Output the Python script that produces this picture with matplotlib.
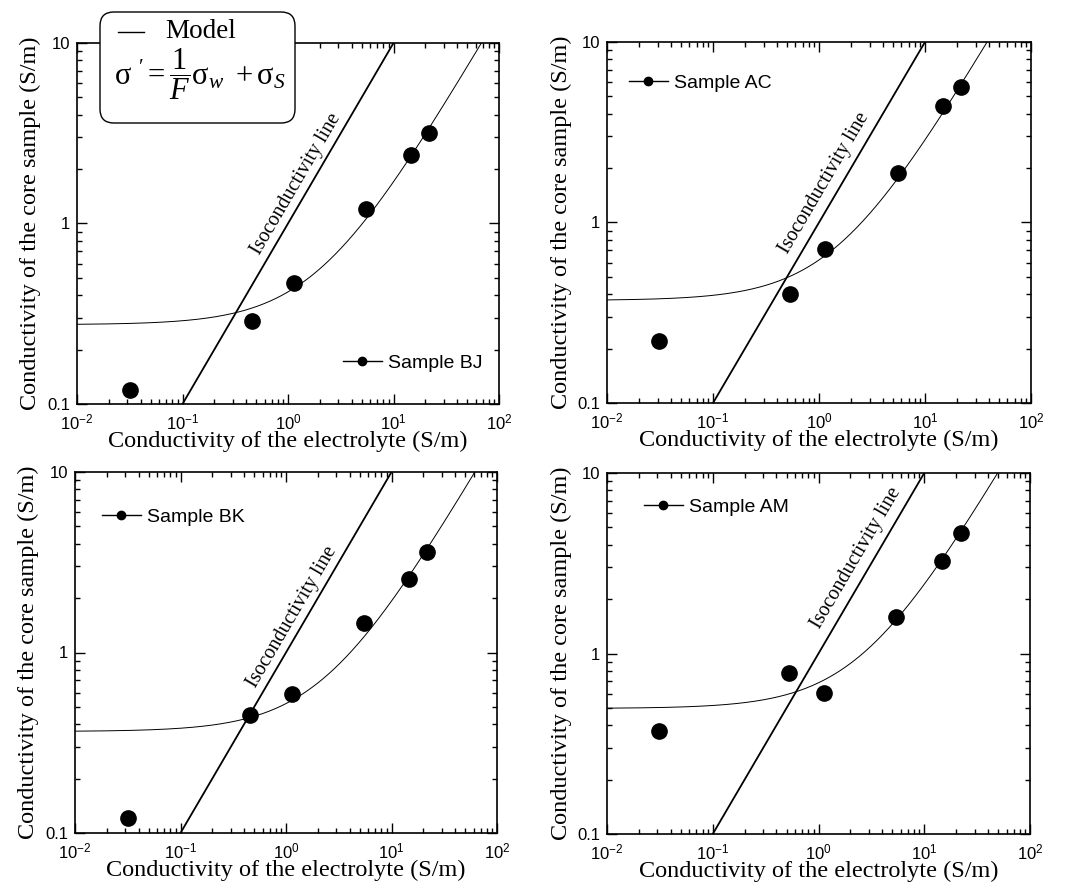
import numpy as np
import matplotlib
matplotlib.use('Agg')
import matplotlib.pyplot as plt
from matplotlib.lines import Line2D
from matplotlib.patches import FancyBboxPatch
from matplotlib.ticker import FixedLocator, FuncFormatter, LogLocator, NullFormatter

plt.rcParams['mathtext.fontset'] = 'custom'
plt.rcParams['mathtext.rm'] = 'Liberation Serif'
plt.rcParams['mathtext.it'] = 'Liberation Serif:italic'
plt.rcParams['mathtext.sf'] = 'Liberation Sans'
plt.rcParams['mathtext.bf'] = 'Liberation Serif:bold'
plt.rcParams['axes.unicode_minus'] = False

# measured points (electrolyte conductivity, core conductivity), S/m
samples = ['BJ', 'AC', 'BK', 'AM']
x_bj = [0.0315, 0.46, 1.13, 5.46, 14.6, 21.9]
y_bj = [0.12, 0.29, 0.47, 1.21, 2.41, 3.19]
x_ac = [0.031, 0.53, 1.14, 5.54, 14.7, 22.0]
y_ac = [0.22, 0.40, 0.71, 1.89, 4.42, 5.66]
x_bk = [0.0315, 0.46, 1.135, 5.54, 14.6, 21.9]
y_bk = [0.121, 0.448, 0.59, 1.45, 2.57, 3.61]
x_am = [0.031, 0.53, 1.13, 5.46, 14.6, 22.1]
y_am = [0.372, 0.775, 0.605, 1.60, 3.25, 4.65]

# model parameters: formation factor F and surface conductivity sigma_s
F_fac = [7.0, 4.0, 6.4, 5.2]
sig_s = [0.275, 0.37, 0.365, 0.496]

xs = [x_bj, x_ac, x_bk, x_am]
ys = [y_bj, y_ac, y_bk, y_am]

# where the "Isoconductivity line" label sits (data coords)
iso_lab = [(1.19, 1.66), (1.13, 1.66), (1.14, 1.58), (2.26, 3.38)]

W, H = 1067, 889
fig = plt.figure(figsize=(W/100, H/100), dpi=100)

# axes boxes in pixels: left, right, top, bottom
boxes = [(77, 499, 43, 404), (607, 1031, 42, 403),
         (75, 497, 472, 833), (607, 1030, 473, 834)]
# legend anchor in axes fraction
leg_pos = [(0.63, 0.114), (0.052, 0.886), (0.064, 0.875), (0.087, 0.906)]

serif = 'Liberation Serif'
sans = 'Liberation Sans'

xfit = np.logspace(-2, 2, 400)

for i, (l, r, t, b) in enumerate(boxes):
    ax = fig.add_axes([l/W, 1 - b/H, (r - l)/W, (b - t)/H])
    ax.set_xscale('log')
    ax.set_yscale('log')
    ax.set_xlim(0.01, 100)
    ax.set_ylim(0.1, 10)

    # isoconductivity line
    ax.plot([0.01, 100], [0.01, 100], color='k', lw=1.3)
    # model curve
    ax.plot(xfit, xfit / F_fac[i] + sig_s[i], color='k', lw=0.7)
    ax.plot(xs[i], ys[i], 'o', color='k', ms=11, ls='none')

    h = Line2D([], [], color='k', marker='o', ms=6, lw=1.0)
    ax.legend([h], ['Sample ' + samples[i]], loc='center left',
              bbox_to_anchor=leg_pos[i], frameon=False, borderpad=0,
              borderaxespad=0, handlelength=2.0, handletextpad=0.3,
              prop={'family': sans, 'size': 14})

    # rotated label along y = x
    p0 = ax.transData.transform((0.1, 0.1))
    p1 = ax.transData.transform((10, 10))
    ang = np.degrees(np.arctan2(p1[1] - p0[1], p1[0] - p0[0]))
    ax.text(iso_lab[i][0], iso_lab[i][1], 'Isoconductivity line', rotation=ang,
            ha='center', va='center', rotation_mode='anchor',
            family=serif, fontsize=14.5)

    ax.xaxis.set_major_locator(FixedLocator([0.01, 0.1, 1, 10, 100]))
    ax.xaxis.set_minor_locator(LogLocator(base=10, subs=np.arange(2, 10), numticks=20))
    ax.xaxis.set_minor_formatter(NullFormatter())
    ax.xaxis.set_major_formatter(FuncFormatter(
        lambda v, p: r'$\mathsf{10^{%d}}$' % round(np.log10(v))))
    ax.yaxis.set_major_locator(FixedLocator([0.1, 1, 10]))
    ax.yaxis.set_minor_locator(LogLocator(base=10, subs=np.arange(2, 10), numticks=20))
    ax.yaxis.set_minor_formatter(NullFormatter())
    ax.yaxis.set_major_formatter(FuncFormatter(lambda v, p: '%g' % v))

    ax.tick_params(which='both', direction='in', top=True, right=True, width=1.0)
    ax.tick_params(which='major', length=7, labelsize=12)
    ax.tick_params(axis='x', which='major', pad=6)
    ax.tick_params(axis='y', which='major', pad=5)
    ax.tick_params(which='minor', length=3.5)
    for lab in ax.get_xticklabels() + ax.get_yticklabels():
        lab.set_family(sans)
    for s in ax.spines.values():
        s.set_linewidth(1.2)

    ax.set_xlabel('Conductivity of the electrolyte (S/m)', family=serif,
                  fontsize=17.5, labelpad=-1)
    ax.set_ylabel('Conductivity of the core sample (S/m)', family=serif,
                  fontsize=17.5, labelpad=4)

# model legend box, top-left
bx = FancyBboxPatch((100/W, 1 - 123/H), 195/W, 111/H,
                    boxstyle='round,pad=0,rounding_size=0.013',
                    mutation_aspect=W/H, transform=fig.transFigure,
                    fc='white', ec='k', lw=1.0, zorder=5)
fig.add_artist(bx)
fig.add_artist(Line2D([118/W, 144/W], [1 - 32/H, 1 - 32/H], color='k', lw=1.0,
                      transform=fig.transFigure, zorder=6))
fig.text(165/W, 1 - 32/H, 'Model', family=serif, fontsize=19.5,
         va='center', ha='left', zorder=6)
fig.text(200/W, 1 - 74/H,
         r"$\mathrm{\sigma}\ ' = \dfrac{1}{F}\mathrm{\sigma}_w\ + \mathrm{\sigma}_S$",
         fontsize=22, va='center', ha='center', zorder=6)

fig.savefig('out.png', dpi=100)
